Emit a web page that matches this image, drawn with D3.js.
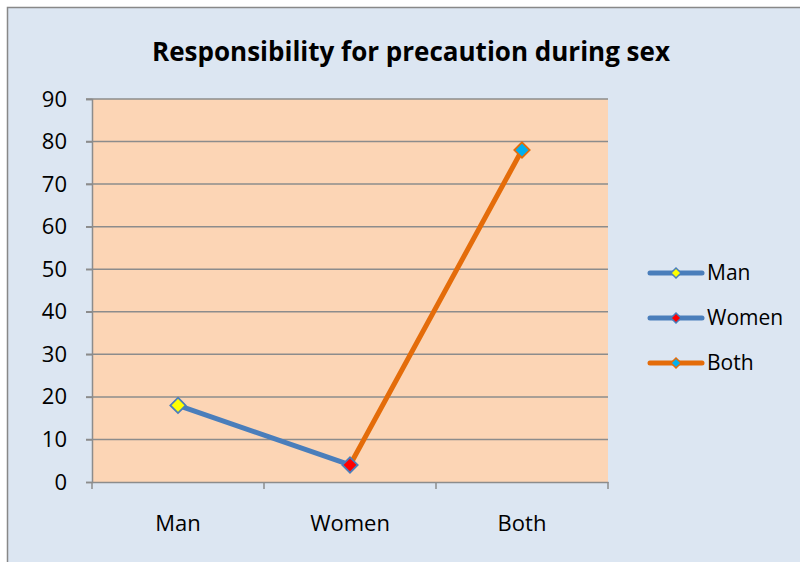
<!DOCTYPE html>
<html><head><meta charset="utf-8">
<script src="https://cdn.jsdelivr.net/npm/d3@7"></script>
<style>html,body{margin:0;padding:0;background:#fff;overflow:hidden}</style>
</head><body>
<svg id="c" width="800" height="562"></svg>
<script>
const categories = ["Man", "Women", "Both"];
const values = [18, 4, 78];
const yTicks = [0, 10, 20, 30, 40, 50, 60, 70, 80, 90];
const title = "Responsibility for precaution during sex";
const pointFill = ["#ffff00", "#ff0000", "#00b0f0"];
const pointStroke = ["#4a7ebb", "#4a7ebb", "#e46c0a"];
const segmentColor = ["#4a7ebb", "#e46c0a"];

const svg = d3.select("#c");
const font = "'Open Sans',sans-serif";
svg.append("rect").attr("x", 0).attr("y", 0).attr("width", 800).attr("height", 562).attr("fill", "#fff");
svg.append("rect").attr("x", 7.5).attr("y", 7.5).attr("width", 900).attr("height", 900)
  .attr("fill", "#dce6f2").attr("stroke", "#888").attr("stroke-width", 1.5);

const L = 92, R = 608, T = 99, B = 482;
const x = d3.scaleBand().domain(categories).range([L, R]);
const y = d3.scaleLinear().domain([0, 90]).range([B, T]);

svg.append("rect").attr("x", L).attr("y", T).attr("width", R - L).attr("height", B - T).attr("fill", "#fcd5b5");

// gridlines
svg.append("g").selectAll("line").data(yTicks.filter(d => d > 0)).join("line")
  .attr("x1", L - 6).attr("x2", R).attr("y1", d => y(d)).attr("y2", d => y(d))
  .attr("stroke", "#8c8c8c").attr("stroke-width", 1.5);

// y axis
const ya = svg.append("g").attr("transform", `translate(${L},0)`)
  .call(d3.axisLeft(y).tickValues(yTicks).tickSize(6).tickPadding(8));
ya.select(".domain").attr("stroke", "#8c8c8c").attr("stroke-width", 1.5);
ya.selectAll(".tick line").attr("stroke", "#8c8c8c").attr("stroke-width", 1.5);
ya.selectAll("text").attr("font-family", font).attr("font-size", 22).attr("fill", "#000").attr("dx", "-11");

// x axis
const xa = svg.append("g").attr("transform", `translate(0,${B})`)
  .call(d3.axisBottom(x).tickSize(0).tickPadding(33));
xa.select(".domain").attr("stroke", "#8c8c8c").attr("stroke-width", 1.5);
xa.selectAll("text").attr("font-family", font).attr("font-size", 22).attr("fill", "#000");
const bounds = [L, ...categories.map(c => x(c) + x.bandwidth())];
xa.selectAll(".bt").data(bounds).join("line").attr("class", "bt")
  .attr("x1", d => d).attr("x2", d => d).attr("y1", 0).attr("y2", 7)
  .attr("stroke", "#8c8c8c").attr("stroke-width", 1.5);

const cx = i => x(categories[i]) + x.bandwidth() / 2;

// segments
for (let i = 0; i < values.length - 1; i++) {
  svg.append("line").attr("x1", cx(i)).attr("y1", y(values[i])).attr("x2", cx(i + 1)).attr("y2", y(values[i + 1]))
    .attr("stroke", segmentColor[i]).attr("stroke-width", 5).attr("stroke-linecap", "round");
}
const diamond = d3.symbol().type(d3.symbolDiamond2).size(150);
values.forEach((v, i) => {
  svg.append("path").attr("d", diamond()).attr("transform", `translate(${cx(i)},${y(v)})`)
    .attr("fill", pointFill[i]).attr("stroke", pointStroke[i]).attr("stroke-width", 1.8);
});

// title
svg.append("text").attr("x", 411).attr("y", 61).attr("text-anchor", "middle")
  .attr("font-family", font).attr("font-weight", "bold").attr("font-size", 26).attr("fill", "#000").text(title);

// legend
const legY = [273, 318, 363];
const legColors = ["#4a7ebb", "#4a7ebb", "#e46c0a"];
categories.forEach((c, i) => {
  const g = svg.append("g").attr("transform", `translate(0,${legY[i]})`);
  g.append("line").attr("x1", 650).attr("x2", 702).attr("y1", 0).attr("y2", 0)
    .attr("stroke", legColors[i]).attr("stroke-width", 5).attr("stroke-linecap", "round");
  g.append("path").attr("d", d3.symbol().type(d3.symbolDiamond2).size(65)()).attr("transform", "translate(676,0)")
    .attr("fill", pointFill[i]).attr("stroke", pointStroke[i]).attr("stroke-width", 1.5);
  g.append("text").attr("x", 707).attr("y", 0).attr("dy", "0.35em").attr("font-family", font)
    .attr("font-size", 21).attr("fill", "#000").text(c);
});
</script>
</body></html>
